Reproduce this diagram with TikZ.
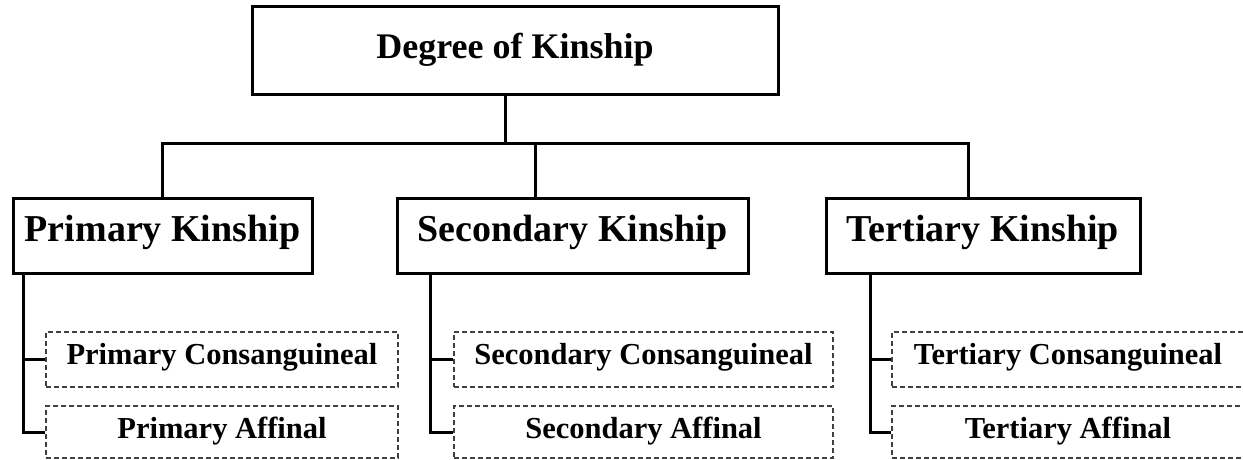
\documentclass[tikz,border=0pt]{standalone}
\usepackage{fontspec}
\setmainfont{Liberation Serif}
\begin{document}
\begin{tikzpicture}[x=1pt,y=-1pt,
  solidbox/.style={draw=black, line width=3pt, rectangle, inner sep=0pt, fill=white, align=center},
  dashbox/.style={draw=black!75, line width=1.2pt, dash pattern=on 5pt off 3pt, rectangle, inner sep=0pt, align=center},
  conn/.style={draw=black, line width=3pt},
  bigtxt/.style={font=\bfseries\fontsize{38}{40}\selectfont, text height=25pt, text depth=14pt},
  toptxt/.style={font=\bfseries\fontsize{36}{40}\selectfont, text height=25pt, text depth=9pt},
  ctxt/.style={font=\bfseries\fontsize{30.5}{33}\selectfont, text height=22pt, text depth=13pt},
  atxt/.style={font=\bfseries\fontsize{30.5}{33}\selectfont, text height=22pt, text depth=10pt}
]
\useasboundingbox (0,0) rectangle (1243,460);
\clip (0,0) rectangle (1243,460);
\fill[white] (0,0) rectangle (1243,460);

% main boxes
\node[solidbox, toptxt, minimum width=526pt, minimum height=88pt] (top) at (515,51) {Degree of Kinship};
\node[solidbox, bigtxt, minimum width=299pt, minimum height=75pt] (prim) at (162.5,235.5) {Primary Kinship};
\node[solidbox, bigtxt, minimum width=351pt, minimum height=75pt] (sec) at (572.5,235.5) {Secondary Kinship};
\node[solidbox, bigtxt, minimum width=314pt, minimum height=75pt] (ter) at (983,235.5) {Tertiary Kinship};

% sub boxes
\node[dashbox, ctxt, minimum width=352pt, minimum height=55pt] (pc) at (222,359.5) {Primary Consanguineal};
\node[dashbox, atxt, minimum width=352pt, minimum height=52pt] (pa) at (222,432) {Primary Affinal};
\node[dashbox, ctxt, minimum width=379pt, minimum height=55pt] (sc) at (643.5,359.5) {Secondary Consanguineal};
\node[dashbox, atxt, minimum width=379pt, minimum height=52pt] (sa) at (643.5,432) {Secondary Affinal};
\node[dashbox, ctxt, minimum width=372pt, minimum height=55pt] (tc) at (1078,359.5) {Tertiary Consanguineal\hspace*{20pt}};
\node[dashbox, atxt, minimum width=372pt, minimum height=52pt] (ta) at (1078,432) {Tertiary Affinal\hspace*{20pt}};

% top connectors
\coordinate (bar) at (505,143);
\draw[conn] (bar |- top.south) -- (bar);
\draw[conn] (prim.north) |- (bar) -| ([xshift=-15pt]ter.north);
\draw[conn] ([xshift=-37pt]sec.north) -- ([xshift=-37pt]sec.north |- bar);

% sub connectors
\draw[conn] ([xshift=12pt]prim.south west) |- (pc.west);
\draw[conn] ([xshift=12pt]prim.south west) |- (pa.west);
\draw[conn] ([xshift=35pt]sec.south west) |- (sc.west);
\draw[conn] ([xshift=35pt]sec.south west) |- (sa.west);
\draw[conn] ([xshift=46pt]ter.south west) |- (tc.west);
\draw[conn] ([xshift=46pt]ter.south west) |- (ta.west);
\end{tikzpicture}
\end{document}
